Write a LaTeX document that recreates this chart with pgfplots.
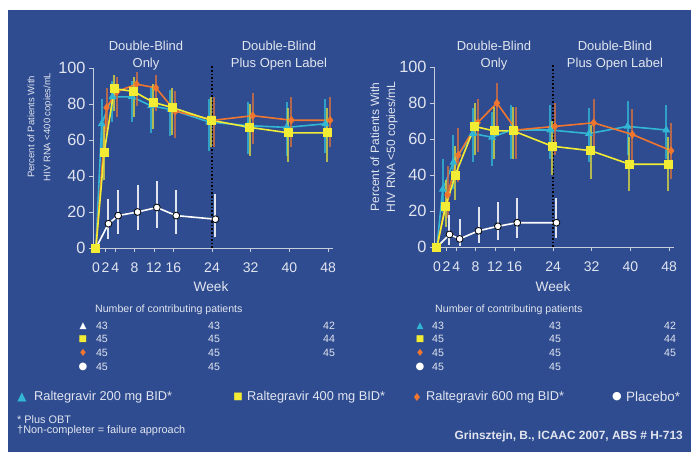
\documentclass[border=0pt]{standalone}
\usepackage{pgfplots}
\pgfplotsset{compat=1.18}
\usepackage{fontspec}
\setmainfont{Liberation Sans}
\newfontfamily\sym{DejaVu Sans}
\definecolor{bg}{RGB}{46,76,143}
\definecolor{cyanC}{RGB}{50,182,212}
\definecolor{yellowC}{RGB}{242,236,52}
\definecolor{orangeC}{RGB}{240,118,48}
\definecolor{txt}{RGB}{226,229,240}
\definecolor{axc}{RGB}{200,205,220}
\pgfplotsset{
  myaxis/.style={
    scale only axis, width=240pt, height=180pt,
    xmin=-0.6, xmax=49, ymin=0, ymax=100,
    axis lines=left, axis line style={-, axc, line width=0.8pt},
    xtick={0,2,4,8,12,16,24,32,40,48},
    ytick={0,20,40,60,80,100},
    tick align=outside, major tick length=4pt,
    tick style={axc, line width=0.8pt},
    xticklabel style={font=\fontsize{14}{16}\selectfont, text=txt, yshift=-7pt, inner xsep=0pt},
    yticklabel style={font=\fontsize{16.3}{18}\selectfont, text=txt},
    /pgf/number format/assume math mode=true,
    clip=false,
    error bars/y dir=both, error bars/y explicit,
  },
  cy/.style={cyanC, line width=1.6pt, mark=triangle*, mark size=3pt,
    error bars/error bar style={cyanC, line width=2pt, opacity=0.8}, error bars/error mark=none},
  ye/.style={yellowC, line width=1.6pt, mark=square*, mark size=3.7pt,
    error bars/error bar style={yellowC!85!bg, line width=2pt, opacity=0.8}, error bars/error mark=none},
  or/.style={orangeC, line width=1.6pt, mark=diamond*, mark size=3pt,
    error bars/error bar style={orangeC!85!bg, line width=2pt, opacity=0.8}, error bars/error mark=none},
  pl/.style={white, line width=1.6pt, mark=*, mark size=3.4pt,
    mark options={fill=white, draw=black, line width=0.8pt},
    error bars/error bar style={white!85!bg, line width=2pt}, error bars/error mark=none},
}
\begin{document}
\begin{tikzpicture}[x=1pt,y=1pt]
\useasboundingbox (0,0) rectangle (696,459);
\fill[white] (0,0) rectangle (696,459);
\fill[bg] (8,7) rectangle (691,449);

% ---------- left panel ----------
\begin{axis}[myaxis, at={(93pt,211pt)}, anchor=south west]
\addplot[black, dotted, line width=1.6pt, forget plot] coordinates {(24,0) (24,101)};
\addplot[cy] coordinates {
(0,0)
(1.2,69) += (0,14) -= (0,16)
(3.4,84) += (0,9) -= (0,14)
(7.4,84) += (0,9) -= (0,14)
(11.4,79) += (0,11) -= (0,15)
(15.4,77) += (0,11) -= (0,15)
(23.4,70) += (0,13) -= (0,16)
(31.4,68) += (0,13) -= (0,16)
(39.4,67) += (0,14) -= (0,16)
(47.4,69) += (0,14) -= (0,16)
};
\addplot[or] coordinates {
(0,0)
(2.2,78) += (0,11) -= (0,15)
(4.4,87) += (0,8) -= (0,14)
(8.4,91) += (0,7) -= (0,12)
(12.4,89) += (0,7) -= (0,13)
(16.4,76) += (0,11) -= (0,15)
(24.4,71) += (0,13) -= (0,15)
(32.4,73.5) += (0,12.5) -= (0,15.5)
(40.4,71) += (0,13) -= (0,15)
(48.4,71) += (0,13) -= (0,15)
};
\addplot[ye] coordinates {
(0,0)
(1.7,53) += (0,15) -= (0,15)
(3.8,88.5) += (0,7.5) -= (0,12.5)
(7.8,87) += (0,8) -= (0,14)
(11.8,81) += (0,10) -= (0,15)
(15.8,78) += (0,11) -= (0,15)
(23.8,71) += (0,13) -= (0,15)
(31.8,67) += (0,13) -= (0,16)
(39.8,64) += (0,14) -= (0,16)
(47.8,64) += (0,14) -= (0,16)
};
\addplot[pl] coordinates {
(0,0)
(2.6,13.5) += (0,13.5) -= (0,8.5)
(4.6,18) += (0,14) -= (0,10)
(8.6,20) += (0,15) -= (0,10)
(12.6,22.5) += (0,15) -= (0,11.5)
(16.6,18) += (0,14) -= (0,10)
(24.7,16) += (0,14) -= (0,10)
};
\addplot[ye, forget plot, error bars/y dir=none] coordinates {(0,0)};
\end{axis}

% ---------- right panel ----------
\begin{axis}[myaxis, at={(434pt,212pt)}, anchor=south west]
\addplot[black, dotted, line width=1.6pt, forget plot] coordinates {(24,0) (24,101)};
\addplot[cy] coordinates {
(0,0)
(1.2,32) += (0,17) -= (0,13)
(3.4,47) += (0,15) -= (0,15)
(7.4,63) += (0,14) -= (0,16)
(11.4,61) += (0,14) -= (0,16)
(15.4,65) += (0,14) -= (0,16)
(23.4,65) += (0,14) -= (0,16)
(31.4,63) += (0,14) -= (0,16)
(39.4,67) += (0,14) -= (0,16)
(47.4,65) += (0,14) -= (0,16)
};
\addplot[or] coordinates {
(0,0)
(2.2,29) += (0,16) -= (0,13)
(4.4,51) += (0,15) -= (0,15)
(8.4,69) += (0,13) -= (0,16)
(12.4,80) += (0,11) -= (0,15)
(16.4,65) += (0,13) -= (0,16)
(24.4,67) += (0,13) -= (0,16)
(32.4,69) += (0,13) -= (0,16)
(40.4,62.5) += (0,14) -= (0,15.5)
(48.4,53.5) += (0,15.5) -= (0,15.5)
};
\addplot[ye] coordinates {
(0,0)
(1.8,22.5) += (0,14.5) -= (0,11.5)
(3.8,40) += (0,16) -= (0,14)
(7.8,67) += (0,13) -= (0,16)
(11.8,64.5) += (0,13.5) -= (0,15.5)
(15.8,64.5) += (0,13.5) -= (0,15.5)
(23.8,56) += (0,14) -= (0,16)
(31.8,53.5) += (0,14.5) -= (0,15.5)
(39.8,46) += (0,15) -= (0,15)
(47.8,46) += (0,15) -= (0,15)
};
\addplot[pl] coordinates {
(0,0)
(2.6,7) += (0,11) -= (0,6)
(4.7,4.5) += (0,11) -= (0,4)
(8.6,9) += (0,13) -= (0,6.5)
(12.6,11.5) += (0,13.5) -= (0,7.5)
(16.6,13.5) += (0,13.5) -= (0,8.5)
(24.7,13.5) += (0,13.5) -= (0,8.5)
};
\addplot[ye, forget plot, error bars/y dir=none] coordinates {(0,0)};
\end{axis}

% ---------- texts ----------
\begin{scope}[every node/.style={text=txt, inner sep=0pt}]
\node[align=center, font=\fontsize{13}{17}\selectfont] at (146,403.5) {Double-Blind\\Only};
\node[align=center, font=\fontsize{13}{17}\selectfont] at (279,403.5) {Double-Blind\\Plus Open Label};
\node[align=center, font=\fontsize{13}{17}\selectfont] at (494,403.5) {Double-Blind\\Only};
\node[align=center, font=\fontsize{13}{17}\selectfont] at (615,403.5) {Double-Blind\\Plus Open Label};
\node[font=\fontsize{13.7}{15}\selectfont] at (211,172) {Week};
\node[font=\fontsize{13.7}{15}\selectfont] at (553,172) {Week};
\node[rotate=90, align=center, font=\fontsize{9.5}{16}\selectfont] at (40,332) {Percent of Patients With\\HIV RNA <400 copies/mL};
\node[rotate=90, align=center, font=\fontsize{12}{16}\selectfont] at (384,312) {Percent of Patients With\\HIV RNA <50 copies/mL};

% tables
\node[anchor=west, font=\fontsize{10.6}{12}\selectfont] at (95,149) {Number of contributing patients};
\node[anchor=west, font=\fontsize{10.6}{12}\selectfont] at (435,149) {Number of contributing patients};
\foreach \yy/\a/\b/\c in {133/43/43/42, 120/45/45/44, 106/45/45/45, 92/45/45/{}} {
  \node[font=\fontsize{10.6}{12}\selectfont] at (102,\yy) {\a};
  \node[font=\fontsize{10.6}{12}\selectfont] at (214,\yy) {\b};
  \node[font=\fontsize{10.6}{12}\selectfont] at (329,\yy) {\c};
  \node[font=\fontsize{10.6}{12}\selectfont] at (438,\yy) {\a};
  \node[font=\fontsize{10.6}{12}\selectfont] at (555,\yy) {\b};
  \node[font=\fontsize{10.6}{12}\selectfont] at (670,\yy) {\c};
}
\node[font=\sym\fontsize{9}{10}\selectfont, text=white] at (83,133) {▲};
\node[font=\sym\fontsize{9}{10}\selectfont, text=yellowC] at (83,120) {■};
\node[font=\sym\fontsize{10}{10}\selectfont, text=orangeC] at (83,106) {♦};
\node[font=\sym\fontsize{10}{10}\selectfont, text=white] at (83,92) {●};
\node[font=\sym\fontsize{9}{10}\selectfont, text=cyanC] at (420,133) {▲};
\node[font=\sym\fontsize{9}{10}\selectfont, text=yellowC] at (420,120) {■};
\node[font=\sym\fontsize{10}{10}\selectfont, text=orangeC] at (420,106) {♦};
\node[font=\sym\fontsize{10}{10}\selectfont, text=white] at (420,92) {●};

% legend row
\node[font=\sym\fontsize{12}{12}\selectfont, text=cyanC] at (22,62) {▲};
\node[anchor=west, font=\fontsize{12.8}{14}\selectfont] at (34,62) {Raltegravir 200 mg BID*};
\node[font=\sym\fontsize{10}{12}\selectfont, text=yellowC] at (238,62) {■};
\node[anchor=west, font=\fontsize{12.8}{14}\selectfont] at (247,62) {Raltegravir 400 mg BID*};
\node[font=\sym\fontsize{11}{12}\selectfont, text=orangeC] at (417,62) {♦};
\node[anchor=west, font=\fontsize{12.8}{14}\selectfont] at (426,62) {Raltegravir 600 mg BID*};
\node[font=\sym\fontsize{11}{12}\selectfont, text=white] at (617,62) {●};
\node[anchor=west, font=\fontsize{13.5}{14}\selectfont] at (626,62) {Placebo*};

% footnotes
\node[anchor=west, font=\fontsize{10.9}{12}\selectfont] at (17,39) {* Plus OBT};
\node[anchor=west, font=\fontsize{10.9}{12}\selectfont] at (17,28) {†Non-completer = failure approach};
\node[anchor=east, font=\bfseries\fontsize{11.9}{14}\selectfont] at (683,23) {Grinsztejn, B., ICAAC 2007, ABS \# H-713};
\end{scope}
\end{tikzpicture}
\end{document}
